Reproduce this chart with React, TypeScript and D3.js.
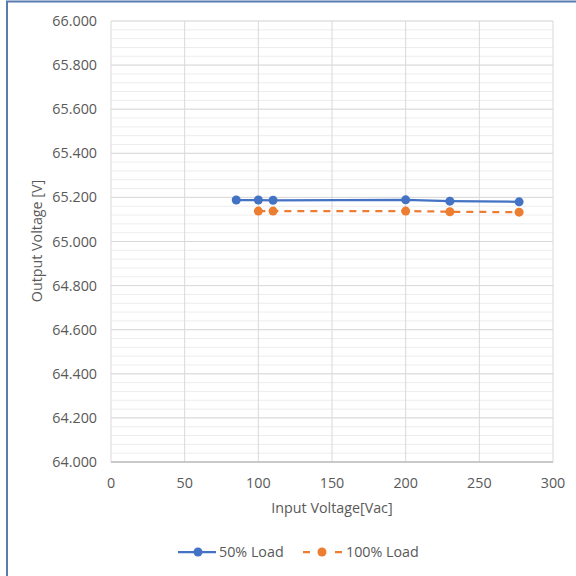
import React from "react";
import * as d3 from "d3";

const series50X = [85, 100, 110, 200, 230, 277];
const series50Y = [65.188, 65.188, 65.187, 65.189, 65.183, 65.180];
const series100X = [100, 110, 200, 230, 277];
const series100Y = [65.138, 65.138, 65.138, 65.135, 65.133];
const xTicks = [0, 50, 100, 150, 200, 250, 300];
const yTicks = [64.0, 64.2, 64.4, 64.6, 64.8, 65.0, 65.2, 65.4, 65.6, 65.8, 66.0];
const seriesNames = ["50% Load", "100% Load"];
const xTitle = "Input Voltage[Vac]";
const yTitle = "Output Voltage [V]";

const FONT = "'Open Sans', sans-serif";
const FS = 14.3;
const TXT = "#595959";
const BLUE = "#4472C4";
const ORANGE = "#ED7D31";

export default function App() {
  const left = 111, right = 553, top = 21, bottom = 462;
  const x = d3.scaleLinear().domain([0, 300]).range([left, right]);
  const y = d3.scaleLinear().domain([64, 66]).range([bottom, top]);
  const minorY = d3.range(0, 51).map((i) => 64 + i * 0.04);
  const line = d3.line<[number, number]>().x((d) => x(d[0])).y((d) => y(d[1]));
  const d50 = series50X.map((v, i) => [v, series50Y[i]] as [number, number]);
  const d100 = series100X.map((v, i) => [v, series100Y[i]] as [number, number]);

  return (
    <svg
      width={576}
      height={576}
      style={{ position: "absolute", left: 0, top: 0, background: "#fff" }}
    >
      <rect x={0} y={0} width={576} height={576} fill="#fff" />
      <rect x={7} y={1.5} width={620} height={620} fill="none" stroke="#5A7BAE" strokeWidth={2} />
      {minorY.map((v, i) => (
        <line key={"m" + i} x1={left} x2={right} y1={y(v)} y2={y(v)} stroke="#EDEDED" strokeWidth={1} />
      ))}
      {yTicks.map((v, i) => (
        <line key={"g" + i} x1={left} x2={right} y1={y(v)} y2={y(v)} stroke="#D9D9D9" strokeWidth={1} />
      ))}
      {xTicks.map((v, i) => (
        <line key={"v" + i} x1={x(v)} x2={x(v)} y1={top} y2={bottom} stroke="#D9D9D9" strokeWidth={1} />
      ))}
      <line x1={left} x2={right} y1={bottom} y2={bottom} stroke="#BFBFBF" strokeWidth={1.5} />
      {yTicks.map((v, i) => (
        <text key={"yt" + i} x={97} y={y(v)} dy="0.35em" textAnchor="end" fontFamily={FONT} fontSize={FS} fill={TXT}>
          {v.toFixed(3)}
        </text>
      ))}
      {xTicks.map((v, i) => (
        <text key={"xt" + i} x={x(v)} y={483} dy="0.35em" textAnchor="middle" fontFamily={FONT} fontSize={FS} fill={TXT}>
          {v}
        </text>
      ))}
      <text x={332} y={508} dy="0.35em" textAnchor="middle" fontFamily={FONT} fontSize={FS} fill={TXT}>
        {xTitle}
      </text>
      <text
        transform={`translate(37,241) rotate(-90)`}
        dy="0.35em"
        textAnchor="middle"
        fontFamily={FONT}
        fontSize={FS}
        fill={TXT}
      >
        {yTitle}
      </text>
      <path d={line(d50) || ""} fill="none" stroke={BLUE} strokeWidth={2.25} />
      <path d={line(d100) || ""} fill="none" stroke={ORANGE} strokeWidth={2.25} strokeDasharray="7,6" />
      {d50.map((p, i) => (
        <circle key={"c50" + i} cx={x(p[0])} cy={y(p[1])} r={4.5} fill={BLUE} />
      ))}
      {d100.map((p, i) => (
        <circle key={"c100" + i} cx={x(p[0])} cy={y(p[1])} r={4.5} fill={ORANGE} />
      ))}
      <g>
        <line x1={178} x2={216} y1={552} y2={552} stroke={BLUE} strokeWidth={2.25} />
        <circle cx={198} cy={552} r={4.5} fill={BLUE} />
        <text x={219} y={552} dy="0.35em" fontFamily={FONT} fontSize={FS} fill={TXT}>
          {seriesNames[0]}
        </text>
        <line x1={303} x2={343} y1={552} y2={552} stroke={ORANGE} strokeWidth={2.25} strokeDasharray="7,9" />
        <circle cx={322} cy={552} r={4.5} fill={ORANGE} />
        <text x={346} y={552} dy="0.35em" fontFamily={FONT} fontSize={FS} fill={TXT}>
          {seriesNames[1]}
        </text>
      </g>
    </svg>
  );
}
